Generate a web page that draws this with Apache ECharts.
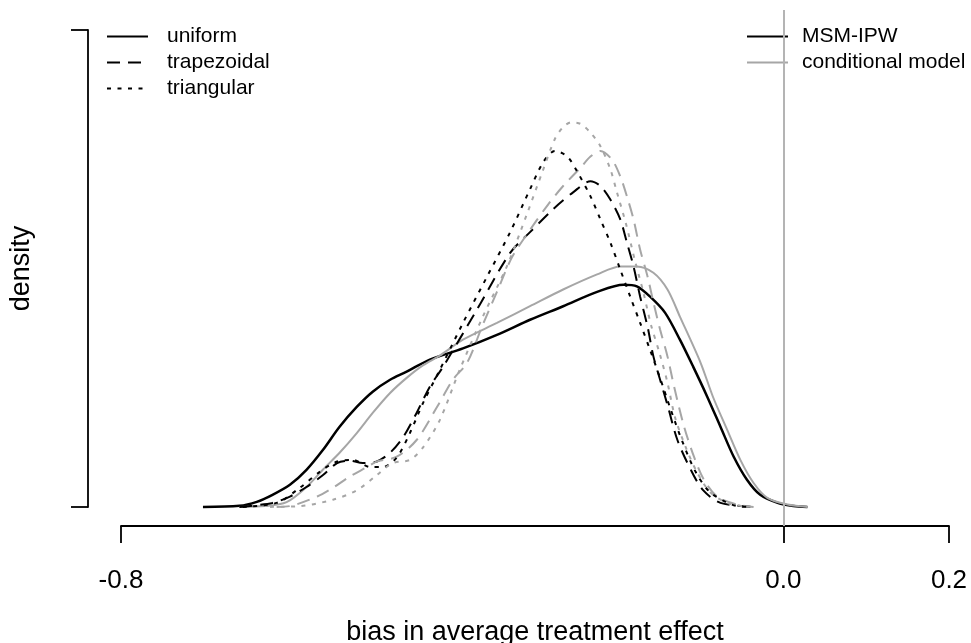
<!DOCTYPE html>
<html>
<head>
<meta charset="utf-8">
<script src="https://cdn.jsdelivr.net/npm/echarts@6/dist/echarts.min.js"></script>
<style>
  html, body { margin: 0; padding: 0; background: #fff; }
  #main { width: 971px; height: 643px; }
</style>
</head>
<body>
<div id="main"></div>
<script>
// bias values (x) and density estimates (y)
const ipwUniformX = [-0.701,-0.657,-0.636,-0.617,-0.596,-0.576,-0.556,-0.536,-0.515,-0.496,-0.475,-0.455,-0.427,-0.387,-0.346,-0.306,-0.266,-0.225,-0.193,-0.177,-0.161,-0.143,-0.125,-0.109,-0.092,-0.076,-0.060,-0.044,-0.028,-0.007,0.012,0.029];
const ipwUniformY = [0,0.013,0.063,0.151,0.277,0.465,0.717,1.006,1.258,1.447,1.597,1.698,1.85,1.99,2.16,2.35,2.52,2.70,2.79,2.77,2.64,2.44,2.10,1.761,1.384,1.006,0.629,0.340,0.151,0.050,0.010,0];

const condUniformX = [-0.657,-0.626,-0.600,-0.576,-0.556,-0.536,-0.515,-0.496,-0.475,-0.455,-0.435,-0.415,-0.387,-0.346,-0.306,-0.266,-0.225,-0.197,-0.177,-0.157,-0.140,-0.125,-0.100,-0.085,-0.068,-0.052,-0.036,-0.019,0.005,0.029];
const condUniformY = [0,0.01,0.06,0.25,0.47,0.68,0.93,1.18,1.43,1.62,1.78,1.90,2.10,2.31,2.52,2.73,2.92,3.02,3.02,2.94,2.73,2.39,1.81,1.38,0.97,0.59,0.30,0.11,0.03,0];

const ipwTrapX = [-0.657,-0.617,-0.596,-0.576,-0.556,-0.539,-0.524,-0.508,-0.491,-0.475,-0.459,-0.443,-0.427,-0.411,-0.370,-0.330,-0.306,-0.278,-0.254,-0.233,-0.221,-0.209,-0.197,-0.189,-0.181,-0.173,-0.164,-0.157,-0.149,-0.140,-0.128,-0.112,-0.097,-0.076,-0.036];
const ipwTrapY = [0,0.05,0.13,0.25,0.40,0.55,0.58,0.55,0.57,0.68,0.88,1.18,1.51,1.76,2.48,3.19,3.45,3.74,3.95,4.09,4.03,3.86,3.61,3.32,3.02,2.64,2.26,1.89,1.60,1.28,0.84,0.47,0.21,0.05,0];

const condTrapX = [-0.612,-0.596,-0.563,-0.544,-0.524,-0.503,-0.491,-0.467,-0.443,-0.418,-0.399,-0.382,-0.363,-0.346,-0.328,-0.306,-0.284,-0.266,-0.245,-0.233,-0.221,-0.207,-0.197,-0.189,-0.181,-0.173,-0.164,-0.157,-0.149,-0.140,-0.132,-0.120,-0.108,-0.096,-0.080,-0.056,-0.036];
const condTrapY = [0,0.01,0.13,0.24,0.38,0.50,0.57,0.63,0.84,1.26,1.60,1.81,2.29,2.70,3.13,3.48,3.80,4.03,4.26,4.40,4.47,4.36,4.15,3.90,3.61,3.23,2.89,2.57,2.23,1.89,1.51,1.01,0.63,0.34,0.13,0.03,0];

const ipwTriX = [-0.653,-0.612,-0.584,-0.560,-0.539,-0.520,-0.499,-0.484,-0.467,-0.451,-0.435,-0.415,-0.387,-0.358,-0.330,-0.306,-0.290,-0.276,-0.261,-0.249,-0.233,-0.221,-0.209,-0.197,-0.185,-0.173,-0.161,-0.149,-0.137,-0.122,-0.106,-0.088,-0.056,-0.040];
const ipwTriY = [0,0.05,0.24,0.44,0.57,0.59,0.50,0.50,0.62,0.93,1.31,1.72,2.31,2.89,3.45,3.99,4.33,4.47,4.40,4.21,3.90,3.61,3.32,2.98,2.64,2.31,1.97,1.62,1.25,0.82,0.44,0.18,0.01,0];

const condTriX = [-0.620,-0.584,-0.544,-0.515,-0.491,-0.472,-0.451,-0.435,-0.415,-0.391,-0.363,-0.334,-0.310,-0.291,-0.276,-0.266,-0.256,-0.245,-0.233,-0.221,-0.209,-0.201,-0.190,-0.179,-0.169,-0.160,-0.149,-0.140,-0.131,-0.118,-0.104,-0.088,-0.068,-0.044];
const condTriY = [0,0.01,0.09,0.21,0.40,0.55,0.59,0.75,1.09,1.72,2.39,3.02,3.67,4.21,4.62,4.77,4.83,4.81,4.70,4.53,4.24,3.95,3.55,3.08,2.69,2.29,1.91,1.56,1.13,0.75,0.43,0.18,0.05,0];

const xTicks = [-0.8, 0, 0.2];
const yTicks = [0, 6];
const kernelNames = ['uniform', 'trapezoidal', 'triangular'];
const methodNames = ['MSM-IPW', 'conditional model'];

const black = '#000';
const gray = '#a6a6a6';
const dashed = [13, 8];
const dotted = [4, 6.5];

function pairs(xs, ys) {
  return xs.map((x, i) => [x, ys[i]]);
}

function curve(name, xs, ys, color, type, width) {
  return {
    name: name,
    type: 'line',
    xAxisIndex: 0,
    yAxisIndex: 0,
    data: pairs(xs, ys),
    symbol: 'none',
    smooth: 0.3,
    silent: true,
    lineStyle: { color: color, type: type, width: width },
    itemStyle: { color: color }
  };
}

// empty series, only there so the two legends get their keys
function key(name, color, type, width) {
  return {
    name: name,
    type: 'line',
    xAxisIndex: 0,
    yAxisIndex: 0,
    data: [],
    symbol: 'none',
    lineStyle: { color: color, type: type, width: width },
    itemStyle: { color: color }
  };
}

const series = [
  curve('MSM-IPW uniform', ipwUniformX, ipwUniformY, black, 'solid', 2.5),
  curve('conditional uniform', condUniformX, condUniformY, gray, 'solid', 2),
  curve('MSM-IPW trapezoidal', ipwTrapX, ipwTrapY, black, dashed, 2),
  curve('conditional trapezoidal', condTrapX, condTrapY, gray, dashed, 2),
  curve('MSM-IPW triangular', ipwTriX, ipwTriY, black, dotted, 2),
  curve('conditional triangular', condTriX, condTriY, gray, dotted, 2),
  key(kernelNames[0], black, 'solid', 2.5),
  key(kernelNames[1], black, dashed, 2.5),
  key(kernelNames[2], black, dotted, 2.5),
  key(methodNames[0], black, 'solid', 2.5),
  key(methodNames[1], gray, 'solid', 2.5)
];

// vertical reference line at zero bias
series[1].markLine = {
  silent: true,
  symbol: 'none',
  label: { show: false },
  lineStyle: { color: '#b4b4b4', width: 2, type: 'solid' },
  data: [{ xAxis: 0 }]
};

const axisLineStyle = { color: '#000', width: 1.8 };

function legendBox(names, left, textGap) {
  return {
    data: names,
    orient: 'vertical',
    left: left,
    top: 26,
    padding: 0,
    itemWidth: 41,
    itemHeight: 10,
    itemGap: 5,
    selectedMode: false,
    itemStyle: { opacity: 0 },
    textStyle: { fontSize: 21, color: '#000', padding: [0, 0, 0, textGap] }
  };
}

const option = {
  animation: false,
  backgroundColor: '#fff',
  textStyle: { fontFamily: 'Liberation Sans, Arial, sans-serif' },
  grid: [
    { left: 121, width: 828, top: 10, height: 516, outerBoundsMode: 'none' },
    { left: 88, width: 1, top: 30, height: 477, outerBoundsMode: 'none' }
  ],
  legend: [
    legendBox(kernelNames, 106, 14),
    legendBox(methodNames, 746, 9)
  ],
  xAxis: [
    {
      gridIndex: 0,
      type: 'value',
      min: -0.8,
      max: 0.2,
      axisLine: { show: true, onZero: false, lineStyle: axisLineStyle },
      axisTick: { show: true, customValues: xTicks, length: 17, lineStyle: axisLineStyle },
      axisLabel: {
        customValues: xTicks,
        fontSize: 26,
        color: '#000',
        margin: 42,
        formatter: (v) => v.toFixed(1)
      },
      splitLine: { show: false },
      name: 'bias in average treatment effect',
      nameLocation: 'middle',
      nameGap: 93,
      nameMoveOverlap: false,
      nameTextStyle: { fontSize: 27, color: '#000' }
    },
    { gridIndex: 1, type: 'value', min: 0, max: 1, show: false }
  ],
  yAxis: [
    { gridIndex: 0, type: 'value', min: -0.24, max: 6.24, show: false },
    {
      gridIndex: 1,
      type: 'value',
      min: 0,
      max: 6,
      position: 'left',
      axisLine: { show: true, lineStyle: axisLineStyle },
      axisTick: { show: true, customValues: yTicks, length: 17, lineStyle: axisLineStyle },
      axisLabel: { show: false },
      splitLine: { show: false },
      name: 'density',
      nameLocation: 'middle',
      nameGap: 53,
      nameMoveOverlap: false,
      nameTextStyle: { fontSize: 27, color: '#000' }
    }
  ],
  series: series
};

const chart = echarts.init(document.getElementById('main'), null, { renderer: 'canvas' });
chart.setOption(option);
</script>
</body>
</html>
